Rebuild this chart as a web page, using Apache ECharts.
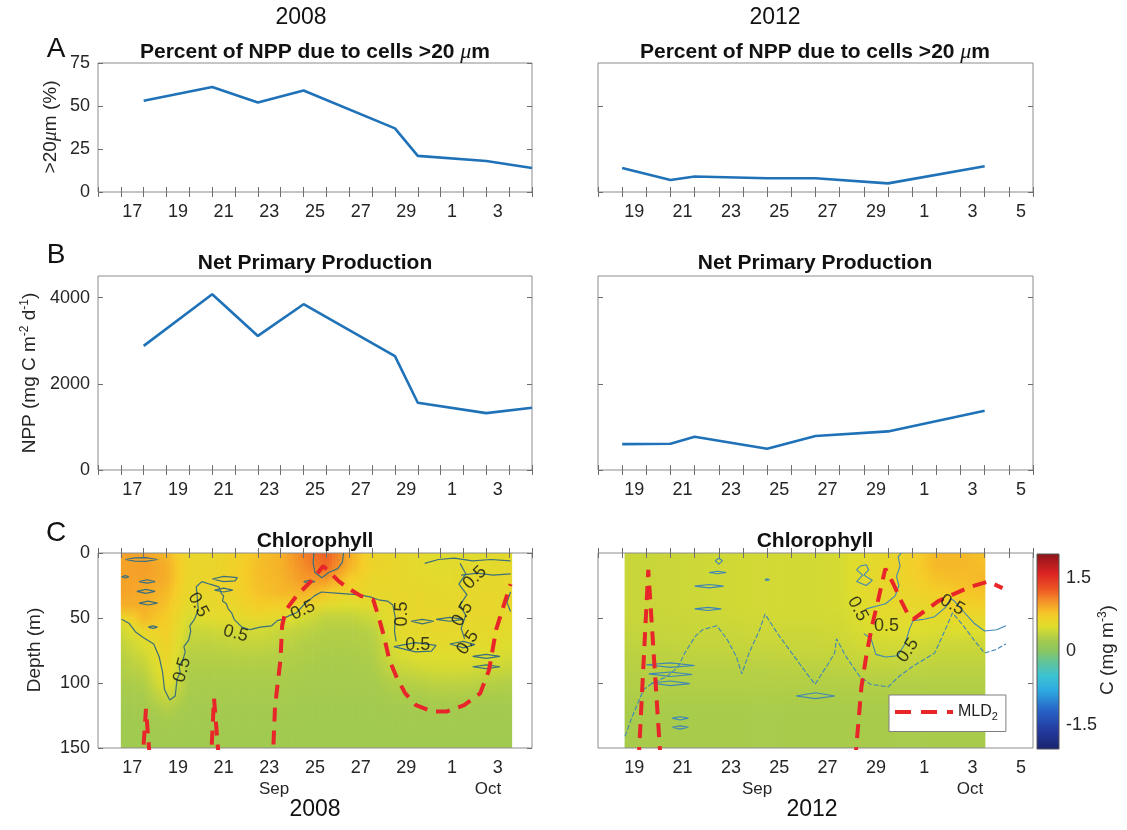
<!DOCTYPE html>
<html>
<head>
<meta charset="utf-8">
<script src="https://cdn.jsdelivr.net/npm/echarts@6/dist/echarts.min.js"></script>
<style>
  html, body { margin: 0; padding: 0; background: #fff; }
  #chart { width: 1127px; height: 830px; }
</style>
</head>
<body>
<div id="chart"></div>
<script>
// ---------------- data ----------------
// day numbers are days of September (Oct 1 = 31)
const dayLabels2008 = ['17', '19', '21', '23', '25', '27', '29', '1', '3'];
const dayLabels2012 = ['19', '21', '23', '25', '27', '29', '1', '3', '5'];
const pctTicks = [0, 25, 50, 75];
const pctTicks2012 = [0, 50];
const nppTicks = [0, 2000, 4000];
const depthTicks = [0, 50, 100, 150];
const chlTicks = [-1.5, 0, 1.5];

const days2008 = [18, 21, 23, 25, 29, 30, 33, 35];
const pct2008 = [53, 61, 52, 59, 37, 21, 18, 14];
const npp2008 = [2880, 4075, 3110, 3845, 2640, 1560, 1320, 1445];

const days2012 = [19, 21, 22, 25, 27, 30, 34];
const pct2012 = [14, 7, 9, 8, 8, 5, 15];
const npp2012 = [600, 610, 770, 495, 790, 895, 1375];

// chlorophyll profiles: one column per station day, values at depthLevels
const depthLevels = [0, 10, 20, 30, 40, 50, 60, 70, 80, 90, 100, 110, 120, 130, 140, 150];
const chlDays2008 = [17, 18, 19, 20, 21, 22, 23, 24, 25, 26, 27, 28, 29, 30, 31, 32, 33, 34.1];
const chl2008 = [
  [0.95, 0.95, 0.95, 0.95, 0.90, 0.60, 0.42, 0.36, 0.32, 0.29, 0.26, 0.23, 0.21, 0.20, 0.20, 0.20],
  [0.95, 0.97, 0.95, 0.92, 0.90, 0.85, 0.62, 0.50, 0.42, 0.35, 0.29, 0.25, 0.22, 0.20, 0.20, 0.20],
  [0.85, 0.90, 0.90, 0.85, 0.80, 0.75, 0.72, 0.68, 0.64, 0.60, 0.54, 0.42, 0.30, 0.23, 0.21, 0.20],
  [0.62, 0.62, 0.62, 0.60, 0.55, 0.46, 0.40, 0.35, 0.31, 0.28, 0.26, 0.24, 0.22, 0.21, 0.20, 0.20],
  [0.62, 0.62, 0.64, 0.62, 0.60, 0.55, 0.42, 0.35, 0.31, 0.28, 0.26, 0.24, 0.22, 0.21, 0.20, 0.20],
  [0.70, 0.70, 0.70, 0.68, 0.62, 0.55, 0.45, 0.38, 0.32, 0.28, 0.26, 0.24, 0.22, 0.21, 0.20, 0.20],
  [0.80, 0.82, 0.82, 0.80, 0.75, 0.60, 0.45, 0.38, 0.32, 0.28, 0.26, 0.24, 0.22, 0.21, 0.20, 0.20],
  [0.88, 0.88, 0.86, 0.85, 0.72, 0.55, 0.40, 0.35, 0.30, 0.28, 0.26, 0.24, 0.22, 0.21, 0.20, 0.20],
  [1.10, 1.05, 1.00, 0.88, 0.68, 0.45, 0.35, 0.30, 0.28, 0.26, 0.24, 0.22, 0.21, 0.20, 0.20, 0.20],
  [1.25, 1.20, 1.00, 0.78, 0.55, 0.36, 0.30, 0.28, 0.26, 0.25, 0.24, 0.22, 0.21, 0.20, 0.20, 0.20],
  [0.92, 0.88, 0.75, 0.65, 0.50, 0.36, 0.30, 0.28, 0.26, 0.25, 0.24, 0.22, 0.21, 0.20, 0.20, 0.20],
  [0.66, 0.66, 0.62, 0.60, 0.55, 0.42, 0.33, 0.30, 0.28, 0.26, 0.24, 0.22, 0.21, 0.20, 0.20, 0.20],
  [0.60, 0.60, 0.60, 0.60, 0.60, 0.58, 0.55, 0.50, 0.45, 0.38, 0.30, 0.26, 0.22, 0.21, 0.20, 0.20],
  [0.56, 0.56, 0.58, 0.60, 0.60, 0.60, 0.58, 0.55, 0.50, 0.42, 0.32, 0.26, 0.22, 0.21, 0.20, 0.20],
  [0.52, 0.53, 0.55, 0.58, 0.60, 0.60, 0.60, 0.56, 0.50, 0.45, 0.35, 0.28, 0.22, 0.21, 0.20, 0.20],
  [0.52, 0.55, 0.56, 0.58, 0.60, 0.60, 0.58, 0.55, 0.52, 0.45, 0.35, 0.28, 0.22, 0.21, 0.20, 0.20],
  [0.53, 0.55, 0.58, 0.60, 0.60, 0.60, 0.58, 0.55, 0.50, 0.42, 0.32, 0.26, 0.22, 0.21, 0.20, 0.20],
  [0.55, 0.58, 0.60, 0.60, 0.60, 0.58, 0.55, 0.50, 0.45, 0.38, 0.30, 0.26, 0.22, 0.21, 0.20, 0.20]
];
const chlDays2012 = [19.1, 20, 21, 22, 23, 24, 25, 26, 27, 28, 29, 30, 31, 32, 33, 34];
const chl2012 = [
  [0.40, 0.40, 0.40, 0.40, 0.40, 0.40, 0.38, 0.36, 0.34, 0.32, 0.30, 0.28, 0.26, 0.25, 0.25, 0.25],
  [0.40, 0.40, 0.40, 0.40, 0.40, 0.40, 0.38, 0.36, 0.34, 0.32, 0.30, 0.28, 0.26, 0.25, 0.25, 0.25],
  [0.41, 0.41, 0.41, 0.41, 0.41, 0.40, 0.39, 0.37, 0.34, 0.32, 0.30, 0.28, 0.26, 0.25, 0.25, 0.25],
  [0.42, 0.42, 0.42, 0.42, 0.42, 0.41, 0.40, 0.38, 0.35, 0.32, 0.30, 0.28, 0.26, 0.25, 0.25, 0.25],
  [0.43, 0.43, 0.43, 0.43, 0.43, 0.42, 0.40, 0.38, 0.35, 0.32, 0.30, 0.28, 0.26, 0.25, 0.25, 0.25],
  [0.44, 0.44, 0.44, 0.44, 0.44, 0.43, 0.41, 0.39, 0.36, 0.32, 0.30, 0.28, 0.26, 0.25, 0.25, 0.25],
  [0.45, 0.45, 0.45, 0.45, 0.45, 0.44, 0.42, 0.40, 0.36, 0.32, 0.30, 0.28, 0.26, 0.25, 0.25, 0.25],
  [0.45, 0.45, 0.45, 0.45, 0.45, 0.44, 0.42, 0.40, 0.37, 0.33, 0.30, 0.28, 0.26, 0.25, 0.25, 0.25],
  [0.45, 0.45, 0.45, 0.45, 0.45, 0.44, 0.42, 0.40, 0.37, 0.33, 0.30, 0.28, 0.26, 0.25, 0.25, 0.25],
  [0.46, 0.46, 0.46, 0.46, 0.46, 0.45, 0.43, 0.41, 0.38, 0.34, 0.30, 0.28, 0.26, 0.25, 0.25, 0.25],
  [0.55, 0.55, 0.55, 0.55, 0.52, 0.50, 0.48, 0.45, 0.40, 0.35, 0.30, 0.28, 0.26, 0.25, 0.25, 0.25],
  [0.60, 0.62, 0.62, 0.60, 0.58, 0.55, 0.50, 0.45, 0.40, 0.35, 0.30, 0.28, 0.26, 0.25, 0.25, 0.25],
  [0.70, 0.72, 0.70, 0.65, 0.60, 0.55, 0.50, 0.45, 0.40, 0.35, 0.30, 0.28, 0.26, 0.25, 0.25, 0.25],
  [0.85, 0.85, 0.80, 0.72, 0.62, 0.55, 0.48, 0.42, 0.38, 0.34, 0.30, 0.28, 0.26, 0.25, 0.25, 0.25],
  [0.85, 0.85, 0.82, 0.78, 0.70, 0.60, 0.50, 0.42, 0.38, 0.34, 0.30, 0.28, 0.26, 0.25, 0.25, 0.25],
  [0.80, 0.82, 0.85, 0.80, 0.72, 0.60, 0.50, 0.42, 0.38, 0.34, 0.30, 0.28, 0.26, 0.25, 0.25, 0.25]
];

// mixed layer depth (MLD2), [day, depth]; segments run beyond 150 m and are clipped
const mld2008 = [
  [[17.93, 165], [18.1, 120], [18.3, 165]],
  [[20.93, 165], [21.08, 112], [21.32, 165]],
  [[23.64, 165], [23.75, 118], [23.99, 82], [24.06, 56], [24.22, 44], [24.69, 33], [25.31, 22], [25.86, 10],
   [26.56, 22], [26.95, 27], [27.5, 33], [28.05, 36], [28.28, 49], [28.52, 64], [28.75, 82], [29.06, 95],
   [29.45, 108], [29.92, 117], [30.62, 122], [31.25, 122], [32.03, 117], [32.73, 108], [33.12, 90],
   [33.43, 59], [33.75, 41], [34.06, 24]]
];
const mld2012 = [
  [[19.68, 160], [20.08, 13], [20.6, 162]],
  [[28.64, 160], [28.9, 103], [29.12, 77], [29.34, 56], [29.57, 38], [29.79, 20], [29.89, 12], [30.23, 24],
   [30.52, 36], [30.82, 47], [31.04, 51], [31.49, 45], [32.08, 37], [32.67, 32], [33.41, 26], [34.15, 22], [34.74, 27]]
];

// 0.5 mg m-3 contours, [day, depth]
const contour2008 = [
  [[17.04, 51], [17.35, 54], [17.66, 61], [17.98, 65], [18.44, 70], [18.68, 80], [18.83, 92], [18.91, 105],
   [19.14, 113], [19.38, 110], [19.46, 97], [19.6, 92], [19.55, 87], [19.72, 82], [19.82, 76], [19.76, 72],
   [19.97, 67], [20.06, 60], [20.02, 56], [20.22, 51], [20.39, 44], [20.35, 35], [20.3, 26], [20.55, 22],
   [20.9, 24], [21.29, 26], [21.4, 31], [21.5, 33], [21.45, 37], [21.62, 39], [21.7, 43], [21.85, 46],
   [21.96, 51], [22.3, 57], [22.66, 59], [23.1, 57], [23.6, 56], [23.85, 52], [24.06, 51], [24.4, 48],
   [24.69, 46], [25.0, 40], [25.47, 33], [25.78, 30], [26.56, 31], [27.34, 32], [27.97, 34], [28.28, 36],
   [28.67, 37], [28.91, 40], [29.02, 50], [28.98, 60], [29.05, 68]],
  [[17.2, 5], [17.6, 3.8], [18.1, 3.6], [18.6, 5], [18.1, 6.4], [17.6, 6.2], [17.2, 5]],
  [[17.8, 22], [18.15, 20.6], [18.5, 22], [18.15, 23.2], [17.8, 22]],
  [[17.7, 29.5], [18.1, 28], [18.5, 29.5], [18.1, 31], [17.7, 29.5]],
  [[17.8, 38.5], [18.2, 37], [18.6, 38.5], [18.2, 40], [17.8, 38.5]],
  [[18.2, 57], [18.4, 56], [18.6, 57], [18.4, 58], [18.2, 57]],
  [[17.04, 18.3], [17.2, 17.4], [17.35, 18.3], [17.2, 19.2], [17.04, 18.3]],
  [[21.0, 20], [21.5, 18], [22.1, 19], [22.0, 21.5], [21.5, 22], [21.0, 20]],
  [[21.1, 28.5], [21.5, 27], [21.9, 28.5], [21.5, 30], [21.1, 28.5]],
  [[25.45, 0], [25.42, 8], [25.5, 15], [25.8, 19], [26.1, 15], [26.5, 12], [26.7, 7], [26.75, 0]],
  [[25.0, 22], [25.25, 21], [25.5, 22], [25.25, 23], [25.0, 22]],
  [[29.7, 52.5], [30.2, 51], [30.7, 52.5], [30.2, 54.5], [29.7, 52.5]],
  [[28.95, 72], [29.9, 69], [30.8, 71], [30.6, 75.5], [29.9, 76], [28.95, 72]],
  [[30.8, 51], [31.4, 49.5], [32.0, 51], [31.4, 52.5], [30.8, 51]],
  [[31.4, 70], [32.0, 68], [32.5, 70.5], [32.0, 73], [31.4, 70]],
  [[32.4, 79.5], [33.0, 78], [33.6, 79.5], [33.0, 81], [32.4, 79.5]],
  [[32.4, 87.5], [33.0, 86], [33.6, 87.5], [33.0, 89], [32.4, 87.5]],
  [[30.3, 8], [30.9, 5], [31.6, 4], [32.4, 6], [33.2, 5], [34.06, 6]],
  [[31.9, 17], [32.6, 15.5], [33.3, 17], [34.06, 16]],
  [[31.85, 8], [32.1, 16], [31.8, 24], [32.15, 32], [31.85, 40], [32.1, 48], [31.9, 58], [32.05, 66]],
  [[34.06, 30], [33.9, 38], [34.06, 45]]
];
const contourLabels2008 = [
  [20.39, 40, -62], [22.03, 62, -15], [19.69, 90, 75], [24.97, 44, 25], [29.3, 47, 90],
  [30.0, 71, 0], [31.95, 47, 60], [32.19, 69, 55], [32.5, 19, 45]
];
const contour2012 = [
  [[19.12, 141], [19.37, 128], [19.59, 118], [19.89, 105], [20.26, 100], [20.85, 95], [21.3, 88], [21.59, 77],
   [22.03, 64], [22.33, 59], [22.92, 56], [23.36, 67], [23.73, 80], [23.95, 93], [24.25, 77], [24.69, 59],
   [24.91, 47], [25.43, 62], [26.02, 77], [26.61, 92], [26.98, 101], [27.5, 86], [27.79, 77], [27.87, 66],
   [28.24, 79], [28.83, 95], [29.27, 101], [30.01, 103], [30.45, 95], [31.04, 87], [31.93, 77], [32.37, 59],
   [32.67, 46], [33.12, 56], [33.56, 67], [34.0, 77], [34.5, 74], [34.88, 70]],
  [[29.0, 62], [29.3, 66], [29.5, 78], [29.9, 80], [30.4, 79], [30.7, 70], [30.9, 58], [31.04, 52], [31.5, 51],
   [31.93, 49], [32.37, 42], [32.6, 35], [32.75, 37], [33.12, 45], [33.56, 54], [34.0, 60], [34.5, 59], [34.88, 56]],
  [[29.1, 43], [29.5, 41], [29.9, 39], [30.3, 33], [30.45, 25], [30.35, 18], [30.5, 10], [30.42, 3], [30.55, 0]],
  [[22.85, 6], [23.0, 4], [23.15, 6], [23.0, 8.5], [22.85, 6]],
  [[22.6, 15], [22.95, 14], [23.3, 15], [22.95, 16], [22.6, 15]],
  [[22.0, 25.5], [22.6, 24.2], [23.2, 25.5], [22.6, 26.8], [22.0, 25.5]],
  [[22.0, 43], [22.55, 41.8], [23.1, 43], [22.55, 44.2], [22.0, 43]],
  [[24.9, 20.5], [25.0, 19.8], [25.1, 20.5], [25.0, 21.2], [24.9, 20.5]],
  [[26.2, 110], [27.0, 107.5], [27.8, 110], [27.0, 112], [26.2, 110]],
  [[28.85, 10], [29.1, 9], [29.2, 13], [29.0, 17], [29.35, 21], [29.1, 25], [28.7, 22], [28.95, 17], [28.7, 13], [28.85, 10]],
  [[20.0, 86], [21.0, 84.5], [22.0, 86.5], [21.0, 88], [20.0, 86]],
  [[20.1, 93], [21.0, 91.5], [21.9, 93.5], [21.0, 95], [20.1, 93]],
  [[20.2, 100], [21.0, 98.5], [21.8, 100.5], [21.0, 102], [20.2, 100]],
  [[21.07, 127], [21.4, 126], [21.74, 127], [21.4, 128.5], [21.07, 127]],
  [[21.07, 134], [21.4, 133], [21.74, 134], [21.4, 135.5], [21.07, 134]]
];
const contourLabels2012 = [
  [28.75, 43, -62], [29.94, 56, 0], [30.82, 75, 55], [32.66, 40, -30]
];

// ---------------- styling ----------------
const FONT = "'Liberation Sans', Arial, Helvetica, sans-serif";
const TXT = '#262626';
const BOX = '#8c8c8c';
const LINE_BLUE = '#1f72b8';
const MLD_RED = '#e8262a';
// dashed-line key for the MLD legend entry
const MLD_ICON = 'path://M0,0h16v4h-16z M26,0h16v4h-16z M52,0h6v4h-6z';

// washed-out jet colour map for chlorophyll (value -> rgb)
const cmapStops = [
  [-2.0, [25, 35, 110]], [-1.6, [35, 60, 160]], [-1.2, [40, 100, 200]], [-0.8, [45, 170, 225]],
  [-0.5, [60, 195, 210]], [-0.2, [100, 195, 150]], [0.0, [135, 198, 100]], [0.25, [168, 203, 76]],
  [0.5, [222, 221, 46]], [0.75, [245, 205, 40]], [1.0, [245, 152, 40]], [1.3, [236, 82, 36]],
  [1.6, [220, 36, 35]], [2.0, [140, 20, 25]]
];
function cmap(v) {
  if (v <= cmapStops[0][0]) return 'rgb(' + cmapStops[0][1].join(',') + ')';
  for (let k = 1; k < cmapStops.length; k++) {
    if (v <= cmapStops[k][0]) {
      const a = cmapStops[k - 1], b = cmapStops[k];
      const t = (v - a[0]) / (b[0] - a[0]);
      const c = a[1].map((x, j) => Math.round(x + (b[1][j] - x) * t));
      return 'rgb(' + c.join(',') + ')';
    }
  }
  return 'rgb(' + cmapStops[cmapStops.length - 1][1].join(',') + ')';
}

// panel boxes in pixels
const COL = [{ left: 98, width: 434, range: [16, 35], labels: dayLabels2008 },
             { left: 598, width: 435, range: [18, 36], labels: dayLabels2012 }];
const ROW = [{ top: 63, height: 129 }, { top: 276, height: 194 }, { top: 553, height: 195 }];

const grids = [], xAxes = [], yAxes = [];
function axisCommon(extra) {
  return Object.assign({
    type: 'value', axisLine: { show: false }, splitLine: { show: false },
    axisPointer: { show: false }
  }, extra);
}
function addPanel(r, c, yCfg) {
  const g = grids.length;
  const col = COL[c], row = ROW[r];
  grids.push({ left: col.left, top: row.top, width: col.width, height: row.height,
    show: true, borderColor: BOX, borderWidth: 1, backgroundColor: 'transparent',
    containLabel: false, outerBoundsMode: 'none' });
  const [lo, hi] = col.range;
  const ticks = [];
  for (let d = lo; d <= hi; d++) ticks.push(d);
  const labelPos = col.labels.map((_, i) => lo + 1.5 + 2 * i);
  const tickStyle = { show: true, inside: true, length: 5, customValues: ticks, lineStyle: { color: '#6e6e6e', width: 1 } };
  xAxes.push(axisCommon({ gridIndex: g, position: 'bottom', min: lo, max: hi, axisTick: tickStyle,
    axisLabel: { customValues: labelPos, margin: 11, fontSize: 18, fontFamily: FONT, color: TXT,
      formatter: v => col.labels[Math.round((v - lo - 1.5) / 2)] } }));
  xAxes.push(axisCommon({ gridIndex: g, position: 'top', min: lo, max: hi, axisTick: tickStyle,
    axisLabel: { show: false } }));
  const yTick = { show: true, inside: true, length: 5, customValues: yCfg.ticks, lineStyle: { color: '#6e6e6e', width: 1 } };
  yAxes.push(axisCommon({ gridIndex: g, position: 'left', min: yCfg.min, max: yCfg.max, inverse: !!yCfg.inverse,
    axisTick: yTick,
    axisLabel: { show: c === 0, customValues: yCfg.ticks, margin: 8, fontSize: 18, fontFamily: FONT, color: TXT,
      formatter: v => String(v) } }));
  yAxes.push(axisCommon({ gridIndex: g, position: 'right', min: yCfg.min, max: yCfg.max, inverse: !!yCfg.inverse,
    axisTick: yTick, axisLabel: { show: false } }));
  return { x: 2 * g, y: 2 * g };
}

const pA08 = addPanel(0, 0, { min: 0, max: 75, ticks: pctTicks });
const pA12 = addPanel(0, 1, { min: 0, max: 75, ticks: pctTicks2012 });
const pB08 = addPanel(1, 0, { min: 0, max: 4500, ticks: nppTicks });
const pB12 = addPanel(1, 1, { min: 0, max: 4500, ticks: nppTicks });
const pC08 = addPanel(2, 0, { min: 0, max: 150, ticks: depthTicks, inverse: true });
const pC12 = addPanel(2, 1, { min: 0, max: 150, ticks: depthTicks.slice(1, 3), inverse: true });

// colour bar panel
const cbGrid = grids.length;
grids.push({ left: 1037, top: 554, width: 22, height: 195, show: true, borderColor: '#555', borderWidth: 1,
  backgroundColor: 'transparent', containLabel: false, outerBoundsMode: 'none' });
xAxes.push(axisCommon({ gridIndex: cbGrid, min: 0, max: 1, show: false }));
yAxes.push(axisCommon({ gridIndex: cbGrid, position: 'right', min: -2, max: 2,
  axisTick: { show: false },
  axisLabel: { customValues: chlTicks, margin: 7, fontSize: 18, fontFamily: FONT, color: TXT,
    formatter: v => (v === 0 ? '0' : String(v)) } }));
const cbX = xAxes.length - 1, cbY = yAxes.length - 1;

// ---------------- series ----------------
const series = [];
function lineSeries(p, days, vals) {
  series.push({ type: 'line', xAxisIndex: p.x, yAxisIndex: p.y, symbol: 'none', silent: true,
    lineStyle: { color: LINE_BLUE, width: 2.6 }, data: days.map((d, i) => [d, vals[i]]) });
}
lineSeries(pA08, days2008, pct2008);
lineSeries(pA12, days2012, pct2012);
lineSeries(pB08, days2008, npp2008);
lineSeries(pB12, days2012, npp2012);

// smooth-shaded chlorophyll field: each item spans two neighbouring profiles
function heatSeries(p, days, field) {
  const nSlices = 8;
  const z0 = depthLevels[0], z1 = depthLevels[depthLevels.length - 1];
  series.push({
    type: 'custom', xAxisIndex: p.x, yAxisIndex: p.y, silent: true, z: -1,
    data: days.slice(0, -1).map((d, i) => [d, 0, i]),
    renderItem: function (params, api) {
      const i = api.value(2);
      const d0 = days[i], d1 = days[i + 1];
      const a = field[i], b = field[i + 1];
      const top = api.coord([d0, z0])[1];
      const bottom = api.coord([d0, z1])[1];
      const children = [];
      for (let s = 0; s < nSlices; s++) {
        const f = (s + 0.5) / nSlices;
        const xa = api.coord([d0 + (d1 - d0) * s / nSlices, z0])[0];
        const xb = api.coord([d0 + (d1 - d0) * (s + 1) / nSlices, z0])[0];
        const stops = depthLevels.map((z, k) => ({
          offset: (z - z0) / (z1 - z0), color: cmap(a[k] * (1 - f) + b[k] * f) }));
        children.push({ type: 'rect',
          shape: { x: xa, y: top, width: xb - xa + 0.7, height: bottom - top },
          style: { fill: new echarts.graphic.LinearGradient(0, 0, 0, 1, stops) } });
      }
      return { type: 'group', children: children };
    }
  });
}
heatSeries(pC08, chlDays2008, chl2008);
heatSeries(pC12, chlDays2012, chl2012);

function contourSeries(p, lines, color, width, dash) {
  lines.forEach((pts, k) => {
    series.push({ type: 'line', xAxisIndex: p.x, yAxisIndex: p.y, symbol: 'none', silent: true, z: 3,
      lineStyle: { color: color, width: width, type: (dash && k === 0) ? dash : 'solid' }, data: pts });
  });
}
contourSeries(pC08, contour2008, '#3b6f7e', 1.2, null);
contourSeries(pC12, contour2012, '#3f86b6', 1.1, [5, 2]);

function contourLabelSeries(p, labels) {
  series.push({ type: 'scatter', xAxisIndex: p.x, yAxisIndex: p.y, symbolSize: 0, silent: true, z: 5,
    data: labels.map(l => ({ value: [l[0], l[1]], label: { rotate: l[2] } })),
    label: { show: true, position: 'inside', formatter: '0.5', fontSize: 18, fontFamily: FONT, color: '#111' } });
}
contourLabelSeries(pC08, contourLabels2008);
contourLabelSeries(pC12, contourLabels2012);

function mldSeries(p, segs) {
  segs.forEach(seg => {
    series.push({ name: 'MLD2', type: 'line', xAxisIndex: p.x, yAxisIndex: p.y, symbol: 'none', silent: true,
      z: 4, clip: true, lineStyle: { color: MLD_RED, width: 4, type: [14, 9] }, itemStyle: { color: MLD_RED },
      data: seg });
  });
}
mldSeries(pC08, mld2008);
mldSeries(pC12, mld2012);

// colour bar
series.push({
  type: 'custom', xAxisIndex: cbX, yAxisIndex: cbY, silent: true, z: -1, data: [[0, 0]],
  renderItem: function (params, api) {
    const tl = api.coord([0, 2]), br = api.coord([1, -2]);
    const stops = [];
    for (let k = 0; k <= 40; k++) stops.push({ offset: k / 40, color: cmap(2 - 4 * k / 40) });
    return { type: 'rect', shape: { x: tl[0], y: tl[1], width: br[0] - tl[0], height: br[1] - tl[1] },
      style: { fill: new echarts.graphic.LinearGradient(0, 0, 0, 1, stops) } };
  }
});

// ---------------- text ----------------
function txt(text, x, y, size, opts) {
  opts = opts || {};
  return { type: 'text', x: x, y: y, rotation: opts.rot || 0, silent: true, z: 10,
    style: { text: text, fontSize: size, fontFamily: FONT, fontWeight: opts.bold ? 'bold' : 'normal',
      fill: opts.color || '#111', align: 'center', verticalAlign: 'middle', rich: opts.rich } };
}
const muRich = { mu: { fontFamily: "'Liberation Serif', 'Times New Roman', serif", fontStyle: 'italic',
  fontWeight: 'normal', fontSize: 22 } };
const supRich = { sup: { fontSize: 12, padding: [0, 0, 10, 0] } };
const graphics = [
  txt('2008', 301, 18, 23, { color: '#111' }),
  txt('2012', 775, 18, 23, { color: '#111' }),
  txt('A', 56, 49, 28), txt('B', 56, 255, 28), txt('C', 56, 533, 28),
  txt('Percent of NPP due to cells >20 {mu|μ}m', 315, 52, 21, { bold: true, rich: muRich }),
  txt('Percent of NPP due to cells >20 {mu|μ}m', 815, 52, 21, { bold: true, rich: muRich }),
  txt('Net Primary Production', 315, 263, 21, { bold: true }),
  txt('Net Primary Production', 815, 263, 21, { bold: true }),
  txt('Chlorophyll', 315, 541, 21, { bold: true }),
  txt('Chlorophyll', 815, 541, 21, { bold: true }),
  txt('>20{m2|μ}m (%)', 51, 127, 19, { rot: Math.PI / 2, color: TXT,
    rich: { m2: { fontFamily: "'Liberation Serif', serif", fontStyle: 'italic', fontSize: 20 } } }),
  txt('NPP (mg C m{sup|-2} d{sup|-1})', 30, 373, 19, { rot: Math.PI / 2, color: TXT, rich: supRich }),
  txt('Depth (m)', 35, 650, 19, { rot: Math.PI / 2, color: TXT }),
  txt('C (mg m{sup|-3})', 1108, 650, 19, { rot: Math.PI / 2, color: TXT, rich: supRich }),
  txt('Sep', 274, 789, 17, { color: TXT }), txt('Oct', 488, 789, 17, { color: TXT }),
  txt('Sep', 757, 789, 17, { color: TXT }), txt('Oct', 970, 789, 17, { color: TXT }),
  txt('2008', 315, 810, 23), txt('2012', 812, 810, 23)
];

const chart = echarts.init(document.getElementById('chart'), null, { renderer: 'canvas' });
chart.setOption({
  animation: false,
  backgroundColor: '#fff',
  textStyle: { fontFamily: FONT },
  grid: grids,
  xAxis: xAxes,
  yAxis: yAxes,
  legend: {
    data: [{ name: 'MLD2', icon: MLD_ICON, itemStyle: { color: MLD_RED, opacity: 1 } }],
    left: 889, top: 695, itemWidth: 58, itemHeight: 14, padding: [9, 8, 9, 6],
    backgroundColor: '#fff', borderColor: '#7f7f7f', borderWidth: 1, selectedMode: false,
    formatter: () => 'MLD{s|2}',
    textStyle: { fontSize: 16, fontFamily: FONT, color: '#222',
      rich: { s: { fontSize: 11, padding: [10, 0, 0, 0] } } }
  },
  graphic: graphics,
  series: series
});
</script>
</body>
</html>
